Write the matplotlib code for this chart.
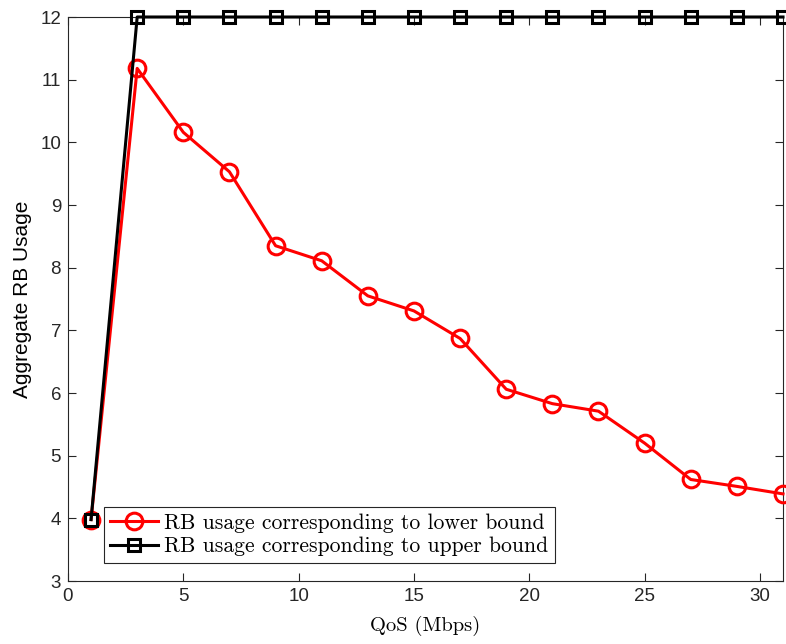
import numpy as np
import matplotlib.pyplot as plt

# QoS targets (Mbps) and aggregate RB usage for both bounds
qos = [1, 3, 5, 7, 9, 11, 13, 15, 17, 19, 21, 23, 25, 27, 29, 31]
rb_lower = [3.98, 11.18, 10.16, 9.53, 8.35, 8.11, 7.55, 7.31, 6.87, 6.06,
            5.83, 5.71, 5.20, 4.62, 4.51, 4.39]
rb_upper = [3.98, 12, 12, 12, 12, 12, 12, 12, 12, 12, 12, 12, 12, 12, 12, 12]

xticks = [0, 5, 10, 15, 20, 25, 30]
yticks = [3, 4, 5, 6, 7, 8, 9, 10, 11, 12]

axcol = '#262626'
plt.rcParams['font.family'] = ['Liberation Sans', 'DejaVu Sans']

fig = plt.figure(figsize=(7.86, 6.44), dpi=100)
ax = fig.add_axes([0.0865, 0.0978, 0.9097, 0.8758])

ax.plot(qos, rb_lower, color='red', lw=2.2, marker='o', ms=12,
        mfc='none', mew=2.2, label='RB usage corresponding to lower bound', clip_on=False, zorder=3)
ax.plot(qos, rb_upper, color='black', lw=2.2, marker='s', ms=8.5,
        mfc='none', mew=2.2, label='RB usage corresponding to upper bound', clip_on=False, zorder=4)

ax.set_xlim(0, 31)
ax.set_ylim(3, 12)
ax.set_xticks(xticks)
ax.set_yticks(yticks)
ax.tick_params(direction='in', top=True, right=True, length=6, width=0.8,
               colors=axcol, labelsize=13.5, pad=5)
for s in ax.spines.values():
    s.set_color(axcol)
    s.set_linewidth(0.8)

ax.set_xlabel('QoS (Mbps)', fontfamily='cmr10', fontsize=14.8, color='black', labelpad=8)
ax.set_ylabel('Aggregate RB Usage', fontsize=15, color='black', labelpad=6)

leg = ax.legend(loc='lower left', bbox_to_anchor=(0.05, 0.032), prop={'family': 'cmr10', 'size': 15.6},
                fancybox=False, edgecolor=axcol, framealpha=1, borderpad=0.3,
                handlelength=2.2, handletextpad=0.3, labelspacing=0.2, borderaxespad=0)
leg.get_frame().set_linewidth(0.8)

fig.savefig('out.png', dpi=100)
